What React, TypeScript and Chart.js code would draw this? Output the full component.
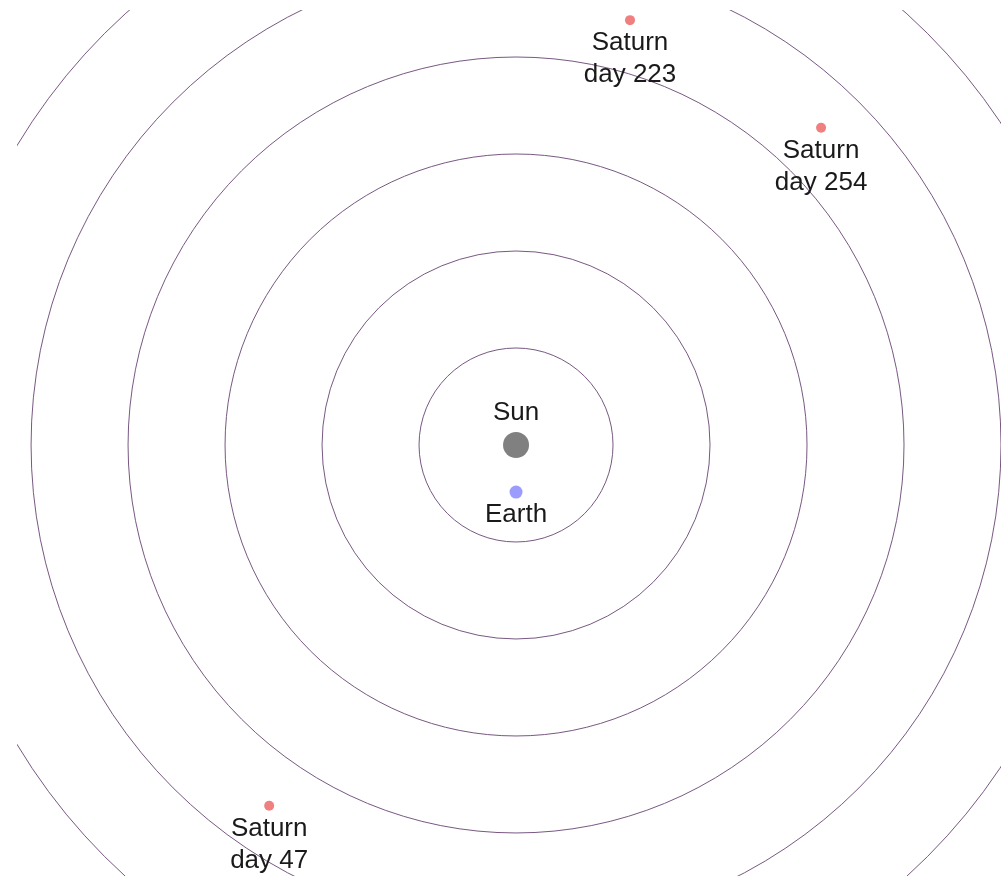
import React, { useEffect, useRef } from "react";
import { Chart, registerables } from "chart.js";

Chart.register(...registerables);

// Positions in astronomical units (AU), heliocentric, viewed from above
const orbitRadii = [2, 4, 6, 8, 10, 12];
const sunX = [0];
const sunY = [0];
const earthX = [0];
const earthY = [-0.97];
const saturnDays = [223, 254, 47];
const saturnX = [2.35, 6.29, -5.09];
const saturnY = [8.76, 6.54, -7.44];
const sunLabels = ["Sun"];
const earthLabels = ["Earth"];
const saturnLabels = saturnDays.map((d) => ["Saturn", "day " + d]);

const X_MIN = -10.29;
const X_MAX = 10.0;
const Y_MIN = -8.887;
const Y_MAX = 8.969;

const orbitPlugin = {
  id: "orbits",
  beforeDatasetsDraw(chart: any) {
    const { ctx, chartArea, scales } = chart;
    const xs = scales.x;
    const ys = scales.y;
    const cx = xs.getPixelForValue(0);
    const cy = ys.getPixelForValue(0);
    ctx.save();
    ctx.beginPath();
    ctx.rect(chartArea.left, chartArea.top, chartArea.right - chartArea.left, chartArea.bottom - chartArea.top);
    ctx.clip();
    ctx.strokeStyle = "rgba(105,70,115,0.9)";
    ctx.lineWidth = 1;
    for (const r of orbitRadii) {
      const rp = xs.getPixelForValue(r) - cx;
      ctx.beginPath();
      ctx.arc(cx, cy, rp, 0, Math.PI * 2);
      ctx.stroke();
    }
    ctx.restore();
  },
};

const labelPlugin = {
  id: "bodyLabels",
  afterDatasetsDraw(chart: any) {
    const { ctx } = chart;
    ctx.save();
    ctx.font = '26px "Liberation Sans", Arial, Helvetica, sans-serif';
    ctx.fillStyle = "#1a1a1a";
    ctx.textAlign = "center";
    ctx.textBaseline = "middle";
    chart.data.datasets.forEach((ds: any, di: number) => {
      const meta = chart.getDatasetMeta(di);
      meta.data.forEach((el: any, i: number) => {
        const lab = ds.bodyLabels[i];
        const lines = Array.isArray(lab) ? lab : [lab];
        const above = ds.labelAbove;
        lines.forEach((ln: string, li: number) => {
          const y = above ? el.y - 32 - (lines.length - 1 - li) * 32 : el.y + 23 + li * 32;
          ctx.fillText(ln, el.x, y);
        });
      });
    });
    ctx.restore();
  },
};

export default function App() {
  const ref = useRef<HTMLCanvasElement | null>(null);
  useEffect(() => {
    if (!ref.current) return;
    const chart = new Chart(ref.current, {
      type: "scatter",
      data: {
        datasets: [
          {
            label: "Sun",
            data: sunX.map((x, i) => ({ x, y: sunY[i] })),
            backgroundColor: "#808080",
            borderWidth: 0,
            pointRadius: 13,
            bodyLabels: sunLabels,
            labelAbove: true,
          } as any,
          {
            label: "Earth",
            data: earthX.map((x, i) => ({ x, y: earthY[i] })),
            backgroundColor: "#9c9cff",
            borderWidth: 0,
            pointRadius: 6.5,
            bodyLabels: earthLabels,
            labelAbove: false,
          } as any,
          {
            label: "Saturn",
            data: saturnX.map((x, i) => ({ x, y: saturnY[i] })),
            backgroundColor: "#f08080",
            borderWidth: 0,
            pointRadius: 5,
            bodyLabels: saturnLabels,
            labelAbove: false,
          } as any,
        ],
      },
      options: {
        animation: false,
        responsive: true,
        maintainAspectRatio: false,
        layout: { autoPadding: false, padding: { left: 17, top: 10, right: 0, bottom: 0 } },
        plugins: { legend: { display: false }, tooltip: { enabled: false } },
        scales: {
          x: { type: "linear", min: X_MIN, max: X_MAX, display: false },
          y: { type: "linear", min: Y_MIN, max: Y_MAX, display: false },
        },
      },
      plugins: [orbitPlugin, labelPlugin],
    });
    return () => chart.destroy();
  }, []);
  return (
    <div style={{ position: "absolute", left: 0, top: 0, width: 1001, height: 876, background: "#fff" }}>
      <canvas ref={ref} />
    </div>
  );
}
